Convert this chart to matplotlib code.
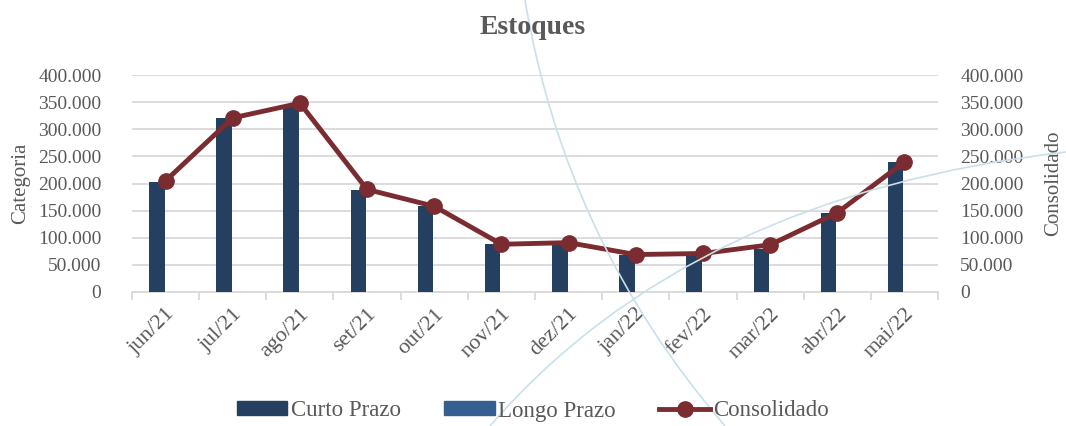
import matplotlib
matplotlib.use("Agg")
import matplotlib.pyplot as plt
import numpy as np
from matplotlib.path import Path
from matplotlib.patches import PathPatch
from matplotlib.ticker import FuncFormatter, MultipleLocator
from matplotlib.lines import Line2D
from matplotlib.patches import Patch

categories = ["jun/21", "jul/21", "ago/21", "set/21", "out/21", "nov/21",
              "dez/21", "jan/22", "fev/22", "mar/22", "abr/22", "mai/22"]
curto_prazo = [203000, 320000, 341000, 188000, 158000, 88000,
               87000, 68000, 70000, 80000, 145000, 239000]
longo_prazo = [0, 0, 0, 0, 0, 0, 0, 0, 0, 0, 0, 0]
consolidado = [205000, 321000, 348000, 189000, 158000, 88000,
               91000, 69000, 71000, 87000, 146000, 240000]

GRAY = "#595959"
NAVY = "#243f60"
BLUE = "#365f91"
RED = "#7b2c31"
FONT = ["Liberation Serif", "DejaVu Serif"]

plt.rcParams['font.family'] = FONT

W, H = 1066, 426
fig = plt.figure(figsize=(W/100, H/100), dpi=100)

# decorative background curves (figure pixel coords)
def fig_curve(p0, c, p1):
    pts = [(x/W, 1 - y/H) for x, y in (p0, c, p1)]
    path = Path(pts, [Path.MOVETO, Path.CURVE3, Path.CURVE3])
    fig.patches.append(PathPatch(path, transform=fig.transFigure, fill=False,
                                 edgecolor="#c9e0ea", lw=1.2, zorder=0))
fig_curve((525, 0), (565, 240), (725, 426))
fig_curve((490, 426), (690, 195), (1066, 152))

ax = fig.add_axes([132/W, 1 - 292/H, (938-132)/W, (292-75)/H])
ax.patch.set_alpha(0)
x = np.arange(len(categories))
bw = 0.23
ax.bar(x - 0.13, curto_prazo, width=bw, color=NAVY, zorder=3)
ax.bar(x - 0.13 + bw, longo_prazo, width=bw, color=BLUE, zorder=3)

ax.set_xlim(-0.5, len(categories) - 0.5)
ax.set_ylim(0, 400000)
ax.yaxis.set_major_locator(MultipleLocator(50000))
fmt = FuncFormatter(lambda v, p: "0" if v == 0 else f"{int(v):,}".replace(",", "."))
ax.yaxis.set_major_formatter(fmt)
ax.grid(axis="y", color="#d9d9d9", lw=1.3, zorder=0)
for s in ["left", "right", "top"]:
    ax.spines[s].set_visible(False)
ax.spines["bottom"].set_color("#d9d9d9")
ax.spines["bottom"].set_linewidth(1.3)
ax.tick_params(axis="y", length=0, pad=22, labelsize=14, labelcolor=GRAY)
ax.set_xticks(x)
ax.set_xticklabels(categories, rotation=45, ha="right", rotation_mode="anchor",
                   fontsize=16, color=GRAY)
ax.tick_params(axis="x", which="major", length=0, pad=9)
ax.set_xticks(np.arange(-0.5, len(categories)), minor=True)
ax.tick_params(axis="x", which="minor", length=6, width=1.3, color="#d9d9d9")
ax.set_ylabel("Categoria", fontsize=15, color=GRAY, labelpad=6)

ax2 = ax.twinx()
ax2.plot(x, consolidado, color=RED, lw=3.5, marker="o", markersize=11, zorder=4)
ax2.set_ylim(0, 400000)
ax2.yaxis.set_major_locator(MultipleLocator(50000))
ax2.yaxis.set_major_formatter(fmt)
for s in ["left", "right", "top", "bottom"]:
    ax2.spines[s].set_visible(False)
ax2.tick_params(axis="y", length=0, pad=16, labelsize=14, labelcolor=GRAY)
ax2.set_ylabel("Consolidado", fontsize=15, color=GRAY, labelpad=15, rotation=90)

fig.text(0.5, 1 - 27/H, "Estoques", ha="center", va="center", fontsize=20,
         fontweight="bold", color=GRAY)

handles = [Patch(color=NAVY), Patch(color=BLUE),
           Line2D([], [], color=RED, lw=3.5, marker="o", markersize=11)]
leg = fig.legend(handles, ["Curto Prazo", "Longo Prazo", "Consolidado"],
                 loc="center", bbox_to_anchor=(0.5, 1 - 411/H), ncol=3,
                 frameon=False, fontsize=16.5, handlelength=2.2, handleheight=0.55,
                 handletextpad=0.15, columnspacing=1.9, numpoints=1)
for t in leg.get_texts():
    t.set_color(GRAY)

fig.savefig("out.png", dpi=100)
